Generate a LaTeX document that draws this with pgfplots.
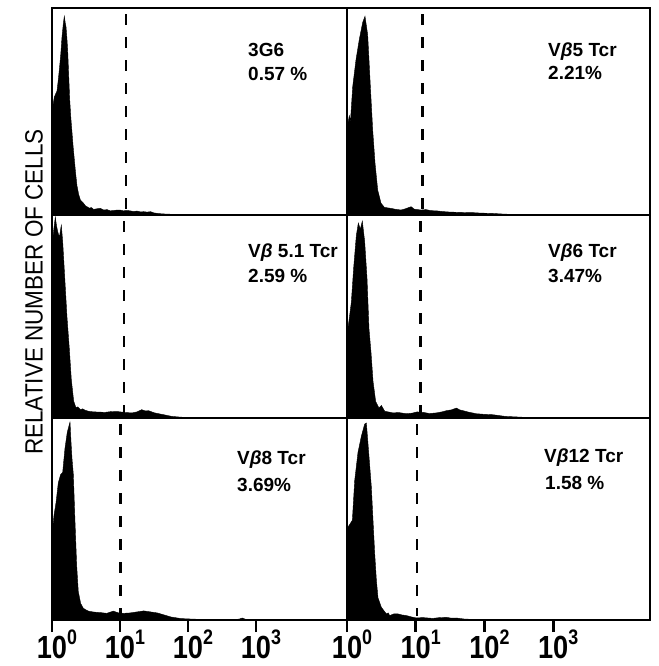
\documentclass[border=0pt]{standalone}
\usepackage{fontspec}
\setmainfont{Liberation Sans}
\usepackage{graphicx}
\usepackage{pgfplots}
\pgfplotsset{compat=1.18}
\newcommand\tl[1]{\scalebox{0.85}[1]{10}\rlap{\raisebox{14pt}{\fontsize{21}{21}\selectfont\scalebox{0.85}[1]{#1}}}}
\pgfplotsset{
  panel/.style={
    scale only axis, axis on top,
    ymin=0, ymax=1, xmin=0,
    ytick=\empty, xtick=\empty,
    axis line style={line width=2.8pt},
    clip=true,
  },
  bottompanel/.style={
    xtick={0,1,2,3},
    xticklabels={\tl{0},\tl{1},\tl{2},\tl{3}},
    xtick pos=bottom,
    tick align=outside,
    major tick length=12pt,
    major tick style={line width=2.8pt, black},
    xticklabel style={font=\fontsize{32}{32}\selectfont\bfseries, anchor=north, inner sep=0pt, yshift=2pt},
  },
  hist/.style={fill=black, draw=black, line width=0.4pt},
  gate/.style={black, line width=2.8pt, dash pattern=on 11pt off 12pt},
}
\newcommand\ann{\fontsize{19}{20}\selectfont\bfseries}
\begin{document}
\begin{tikzpicture}
\useasboundingbox (0,0) rectangle (658pt,666pt);
% ---------- top left
\begin{axis}[panel, at={(52pt,451pt)}, anchor=south west, width=295pt, height=207pt, xmax=4.34]
\addplot[hist] coordinates {(0,0.50)(0.034,0.57)(0.074,0.60)(0.095,0.66)(0.113,0.72)(0.13,0.78)(0.147,0.86)(0.165,0.92)(0.181,0.96)(0.194,0.93)(0.206,0.91)(0.218,0.86)(0.230,0.80)(0.245,0.68)(0.26,0.56)(0.277,0.47)(0.294,0.40)(0.311,0.33)(0.328,0.27)(0.348,0.20)(0.368,0.14)(0.392,0.10)(0.417,0.073)(0.44,0.065)(0.466,0.056)(0.49,0.045)(0.515,0.04)(0.55,0.033)(0.58,0.036)(0.613,0.027)(0.66,0.030)(0.711,0.032)(0.76,0.024)(0.81,0.026)(0.858,0.02)(0.91,0.022)(0.96,0.024)(1.0,0.024)(1.05,0.020)(1.1,0.022)(1.15,0.02)(1.2,0.017)(1.25,0.019)(1.3,0.015)(1.35,0.016)(1.4,0.014)(1.45,0.016)(1.5,0.010)(1.6,0.006)(1.7,0.004)(1.9,0.003)(2.2,0.002)(2.6,0.001)(3.0,0)} \closedcycle;
\addplot[gate] coordinates {(1.09,0.97)(1.09,0.02)};
\end{axis}
% ---------- top right
\begin{axis}[panel, at={(347pt,451pt)}, anchor=south west, width=303pt, height=207pt, xmax=4.41]
\addplot[hist] coordinates {(0,0.42)(0.034,0.48)(0.05,0.45)(0.083,0.62)(0.131,0.75)(0.18,0.85)(0.228,0.93)(0.262,0.96)(0.301,0.87)(0.32,0.75)(0.34,0.62)(0.374,0.41)(0.408,0.25)(0.447,0.12)(0.495,0.057)(0.544,0.037)(0.6,0.034)(0.641,0.032)(0.7,0.028)(0.786,0.024)(0.85,0.03)(0.932,0.04)(0.98,0.028)(1.078,0.024)(1.15,0.026)(1.223,0.021)(1.3,0.02)(1.417,0.016)(1.5,0.014)(1.612,0.013)(1.7,0.012)(1.854,0.011)(1.95,0.009)(2.097,0.008)(2.3,0.004)(2.6,0.002)(3.0,0)} \closedcycle;
\addplot[gate] coordinates {(1.10,0.97)(1.10,0.02)};
\end{axis}
% ---------- middle left
\begin{axis}[panel, at={(52pt,248pt)}, anchor=south west, width=295pt, height=203pt, xmax=4.34]
\addplot[hist] coordinates {(0,0.85)(0.01,0.88)(0.03,0.94)(0.049,0.99)(0.065,0.95)(0.083,0.92)(0.108,0.89)(0.137,0.95)(0.157,0.87)(0.186,0.70)(0.22,0.50)(0.255,0.34)(0.284,0.19)(0.319,0.083)(0.353,0.05)(0.38,0.055)(0.417,0.041)(0.45,0.045)(0.49,0.038)(0.54,0.033)(0.588,0.031)(0.68,0.029)(0.784,0.028)(0.88,0.032)(0.98,0.031)(1.08,0.027)(1.176,0.025)(1.25,0.03)(1.32,0.041)(1.37,0.035)(1.42,0.036)(1.5,0.026)(1.57,0.021)(1.66,0.015)(1.76,0.008)(1.9,0.004)(2.2,0.002)(2.6,0)} \closedcycle;
\addplot[gate] coordinates {(1.06,0.97)(1.06,0.02)};
\end{axis}
% ---------- middle right
\begin{axis}[panel, at={(347pt,248pt)}, anchor=south west, width=303pt, height=203pt, xmax=4.41]
\addplot[hist] coordinates {(0,0.41)(0.029,0.48)(0.063,0.57)(0.097,0.74)(0.136,0.90)(0.165,0.96)(0.194,0.93)(0.223,0.97)(0.257,0.87)(0.291,0.69)(0.32,0.44)(0.35,0.32)(0.379,0.18)(0.417,0.082)(0.466,0.049)(0.5,0.062)(0.549,0.033)(0.6,0.03)(0.67,0.025)(0.75,0.027)(0.864,0.021)(0.95,0.024)(1.02,0.03)(1.107,0.028)(1.2,0.022)(1.3,0.025)(1.38,0.03)(1.447,0.036)(1.52,0.04)(1.592,0.049)(1.64,0.04)(1.689,0.036)(1.78,0.028)(1.883,0.021)(2.0,0.018)(2.126,0.016)(2.3,0.008)(2.6,0.003)(3.0,0)} \closedcycle;
\addplot[gate] coordinates {(1.07,0.97)(1.07,0.02)};
\end{axis}
% ---------- bottom left
\begin{axis}[panel, bottompanel, at={(52pt,46pt)}, anchor=south west, width=295pt, height=202pt, xmax=4.34]
\addplot[hist] coordinates {(0,0.39)(0.01,0.45)(0.03,0.52)(0.059,0.58)(0.093,0.68)(0.127,0.72)(0.157,0.73)(0.191,0.85)(0.225,0.93)(0.265,0.98)(0.28,0.88)(0.294,0.80)(0.314,0.72)(0.338,0.49)(0.363,0.27)(0.387,0.14)(0.422,0.082)(0.461,0.058)(0.5,0.05)(0.534,0.044)(0.6,0.04)(0.657,0.038)(0.73,0.036)(0.804,0.033)(0.902,0.044)(0.97,0.036)(1.05,0.033)(1.15,0.035)(1.25,0.04)(1.35,0.045)(1.45,0.04)(1.55,0.035)(1.65,0.025)(1.75,0.015)(1.9,0.007)(2.1,0.004)(2.4,0.003)(2.75,0.004)(2.8,0.01)(2.85,0.003)(3.1,0)} \closedcycle;
\addplot[gate] coordinates {(1.01,0.97)(1.01,0.02)};
\end{axis}
% ---------- bottom right
\begin{axis}[panel, bottompanel, at={(347pt,46pt)}, anchor=south west, width=303pt, height=202pt, xmax=4.41]
\addplot[hist] coordinates {(0,0.44)(0.015,0.46)(0.049,0.478)(0.078,0.494)(0.112,0.69)(0.16,0.83)(0.209,0.91)(0.257,0.97)(0.282,0.975)(0.32,0.81)(0.354,0.66)(0.379,0.49)(0.403,0.33)(0.427,0.20)(0.451,0.11)(0.5,0.063)(0.573,0.03)(0.6,0.035)(0.621,0.022)(0.68,0.03)(0.743,0.03)(0.8,0.025)(0.864,0.022)(0.94,0.015)(1.01,0.01)(1.1,0.012)(1.25,0.008)(1.35,0.012)(1.45,0.013)(1.52,0.009)(1.59,0.01)(1.7,0.005)(1.83,0.003)(2.1,0)} \closedcycle;
\addplot[gate] coordinates {(1.02,0.97)(1.02,0.02)};
\end{axis}
% ---------- annotations
\begin{scope}[every node/.style={anchor=base west, inner sep=0pt, font=\ann}]
\node at (248pt,609.3pt) {3G6};
\node at (248pt,585.3pt) {0.57 \%};
\node at (548pt,609.3pt) {V\textit{β}5 Tcr};
\node at (548pt,586pt) {2.21\%};
\node at (248pt,408pt) {V\textit{β} 5.1 Tcr};
\node at (248pt,383pt) {2.59 \%};
\node at (548pt,408pt) {V\textit{β}6 Tcr};
\node at (548pt,383pt) {3.47\%};
\node at (237pt,201pt) {V\textit{β}8 Tcr};
\node at (237pt,174pt) {3.69\%};
\node at (544pt,203pt) {V\textit{β}12 Tcr};
\node at (545pt,176pt) {1.58 \%};
\end{scope}
\node[rotate=90, inner sep=0pt, font=\fontsize{25}{25}\selectfont] at (34pt,374pt) {\scalebox{0.9}[1]{RELATIVE NUMBER OF CELLS}};
\end{tikzpicture}
\end{document}
